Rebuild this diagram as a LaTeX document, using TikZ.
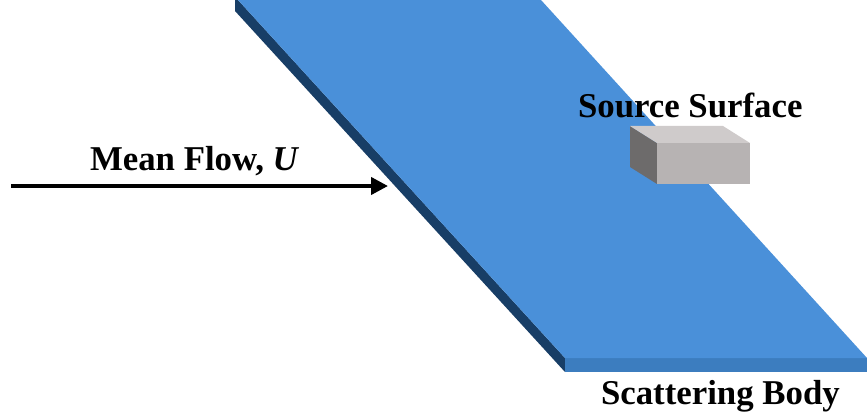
\documentclass[tikz,border=0pt]{standalone}
\usepackage{fontspec}
\setmainfont{Liberation Serif}
\usetikzlibrary{arrows.meta}
\definecolor{plateTop}{HTML}{4A90D9}
\definecolor{plateSide}{HTML}{183E66}
\definecolor{plateFront}{HTML}{3C7DBF}
\definecolor{boxTop}{HTML}{CFCBCB}
\definecolor{boxFront}{HTML}{B7B3B3}
\definecolor{boxLeft}{HTML}{6D6B6B}
\tikzset{
  lbl/.style={anchor=base west,inner sep=0pt,outer sep=0pt,text=black,font=\fontsize{34.8}{35}\selectfont\bfseries},
  flowarrow/.style={draw=black,line width=4pt,-{Triangle[length=17pt,width=17pt]},shorten >=0pt}
}
\begin{document}
\begin{tikzpicture}[x=1pt,y=-1pt]
\useasboundingbox (0,0) rectangle (867,417);
\fill[plateSide] (235,0) -- (235,11) -- (565,372) -- (565,358) -- (238,0) -- cycle;
\fill[plateFront] (565,358) -- (867,358) -- (867,372) -- (565,372) -- cycle;
\fill[plateTop] (238,0) -- (541,0) -- (867,358) -- (565,358) -- cycle;
\fill[boxLeft] (630,126) -- (657,143) -- (657,184) -- (630,167) -- cycle;
\fill[boxTop] (630,126) -- (723,126) -- (750,143) -- (657,143) -- cycle;
\fill[boxFront] (657,143) rectangle (750,184);
\node[lbl] (src) at (578,118) {Source Surface};
\node[lbl] (body) at (601,404) {Scattering Body};
\node[lbl] (flow) at (90,170) {Mean Flow, \textit{U}};
\coordinate (flowstart) at (11,186);
\coordinate (flowend) at (388,186);
\draw[flowarrow] (flowstart) -- (flowend);
\end{tikzpicture}
\end{document}
